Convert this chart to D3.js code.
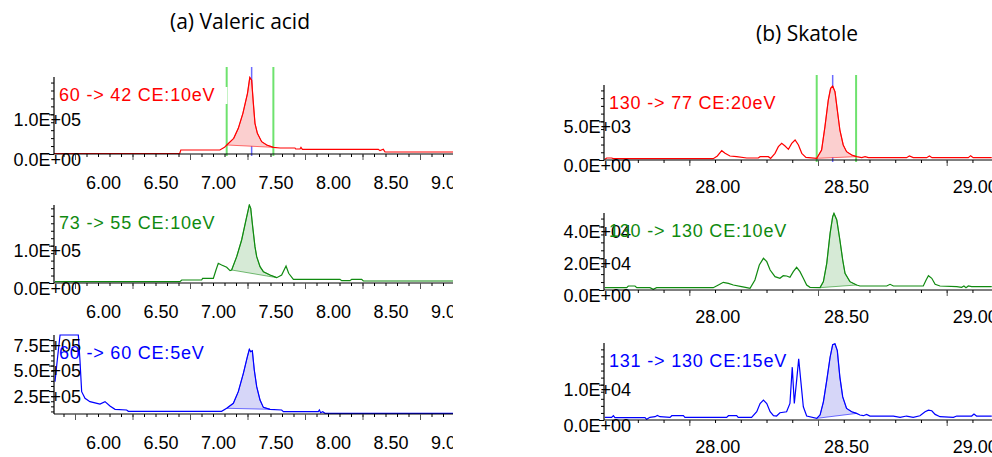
<!DOCTYPE html>
<html>
<head>
<meta charset="utf-8">
<script src="https://cdn.jsdelivr.net/npm/d3@7"></script>
<style>
  body { margin: 0; background: #fff; }
  svg { display: block; }
</style>
</head>
<body>
<div id="chart"></div>
<script>
// ---- data (retention time in min, intensity) ----
const titles = ["(a) Valeric acid", "(b) Skatole"];

const valericLabels = ["60 -> 42 CE:10eV", "73 -> 55 CE:10eV", "60 -> 60 CE:5eV"];
const skatoleLabels = ["130 -> 77 CE:20eV", "130 -> 130 CE:10eV", "131 -> 130 CE:15eV"];

const valericXTicks = [6.0, 6.5, 7.0, 7.5, 8.0, 8.5, 9.0];
const skatoleXTicks = [28.0, 28.5, 29.0];

// y tick values per trace
const valericYTicks = [[0, 1e5], [0, 1e5], [2.5e5, 5.0e5, 7.5e5]];
const skatoleYTicks = [[0, 5e3], [0, 2e4, 4e4], [0, 1e4]];

// y axis extent per trace
const valericYDomain = [[0, 1.94e5], [0, 2.09e5], [0.25e5, 8.0e5]];
const skatoleYDomain = [[0, 9.7e3], [0, 4.85e4], [0, 2.18e4]];

// integration windows and peak marks
const valericPeaks = [[7.32, 7.725], [7.362, 7.754], [7.319, 7.696]];
const skatolePeaks = [[28.495, 28.65], [28.508, 28.65], [28.495, 28.65]];
const valericMarks = [7.319, 7.725];
const valericApex = 7.536;
const skatoleMarks = [28.495, 28.648];
const skatoleApex = 28.557;

const valeric_60_42 = [
  [5.81, 840], [6.91, 840], [6.92, 10080], [7.26, 10080], [7.30, 16800], [7.32, 22700],
  [7.38, 39500], [7.42, 64600], [7.46, 102400], [7.50, 152800], [7.52, 193000],
  [7.536, 186000], [7.551, 127600], [7.565, 77200], [7.586, 52000], [7.623, 31000],
  [7.667, 22700], [7.725, 16800], [7.783, 15100], [7.913, 15100], [7.919, 12600],
  [7.957, 12600], [7.965, 16800], [7.977, 11800], [8.638, 11800], [8.652, 8400],
  [8.681, 11800], [8.696, 5000], [9.29, 5000]
];
const valeric_73_55 = [
  [5.826, 3570], [6.913, 3570], [6.928, 8040], [7.101, 8040], [7.110, 12510], [7.203, 12510],
  [7.226, 34850], [7.246, 52730], [7.275, 48260], [7.319, 42000], [7.348, 33060],
  [7.362, 34850], [7.406, 70600], [7.449, 115280], [7.487, 168900], [7.516, 209100],
  [7.528, 200200], [7.545, 151000], [7.565, 97400], [7.580, 70600], [7.609, 43780],
  [7.638, 30380], [7.696, 21450], [7.754, 14300], [7.797, 21450], [7.835, 45580],
  [7.858, 25920], [7.899, 9830], [8.304, 9830], [8.319, 6250], [8.391, 6250],
  [8.406, 9830], [8.493, 9830], [8.507, 5360], [9.29, 5360]
];
const valeric_60_60 = [
  [5.826, 342000], [5.846, 555000], [5.870, 800000], [6.029, 800000], [6.043, 555000],
  [6.058, 244000], [6.087, 179000], [6.130, 146000], [6.217, 123000], [6.261, 146000],
  [6.304, 103000], [6.348, 71000], [6.449, 64000], [6.464, 51000], [7.275, 51000],
  [7.319, 81000], [7.377, 130000], [7.420, 244000], [7.464, 424000], [7.499, 587000],
  [7.516, 659000], [7.528, 636000], [7.542, 646000], [7.559, 457000], [7.580, 293000],
  [7.609, 162000], [7.638, 90000], [7.696, 71000], [7.797, 64000], [7.812, 48000],
  [8.116, 48000], [8.125, 64000], [8.136, 38000], [8.154, 48000], [8.174, 32000],
  [9.29, 32000]
];

const skatole_130_77 = [
  [27.672, 86], [27.679, 259], [27.698, 259], [27.705, 172], [28.093, 172], [28.109, 517],
  [28.126, 1207], [28.139, 862], [28.158, 517], [28.184, 431], [28.223, 259], [28.268, 259],
  [28.275, 431], [28.307, 431], [28.316, 216], [28.333, 862], [28.346, 1724], [28.359, 2155],
  [28.372, 1810], [28.385, 1379], [28.398, 2155], [28.411, 2586], [28.424, 1940],
  [28.437, 862], [28.453, 345], [28.495, 216], [28.514, 1293], [28.527, 4310],
  [28.540, 7758], [28.549, 9267], [28.557, 9569], [28.566, 8835], [28.575, 6465],
  [28.585, 3879], [28.598, 1940], [28.611, 1077], [28.631, 647], [28.650, 431],
  [28.670, 302], [28.683, 431], [28.696, 302], [28.844, 302], [28.855, 517], [28.870, 302],
  [28.922, 302], [28.933, 517], [28.943, 302], [29.084, 302], [29.093, 560], [29.103, 302],
  [29.175, 302]
];
const skatole_130_130 = [
  [27.672, 1470], [27.757, 1470], [27.763, 2520], [27.789, 2520], [27.796, 1470],
  [27.847, 1470], [27.860, 420], [27.873, 1470], [28.093, 1470], [28.113, 3150],
  [28.132, 4830], [28.152, 4200], [28.171, 3150], [28.203, 2100], [28.223, 1470],
  [28.236, 1050], [28.255, 6300], [28.272, 15750], [28.288, 19950], [28.301, 17850],
  [28.314, 12600], [28.333, 8400], [28.352, 7350], [28.365, 9030], [28.378, 8820],
  [28.391, 7980], [28.404, 11550], [28.417, 14280], [28.430, 11550], [28.443, 7350],
  [28.456, 3150], [28.469, 1680], [28.508, 1470], [28.521, 5250], [28.534, 16800],
  [28.547, 35700], [28.557, 46190], [28.562, 48290], [28.573, 44090], [28.585, 31500],
  [28.596, 18900], [28.605, 10500], [28.624, 5250], [28.650, 3150], [28.663, 2520],
  [28.767, 2520], [28.780, 3570], [28.793, 2520], [28.909, 2520], [28.920, 6300],
  [28.929, 9030], [28.942, 7350], [28.955, 3570], [28.974, 2520], [29.039, 2100],
  [29.058, 1680], [29.067, 2520], [29.075, 1470], [29.084, 2520], [29.097, 2100],
  [29.175, 2100]
];
const skatole_131_130 = [
  [27.672, 748], [27.698, 748], [27.705, 1215], [27.711, 654], [27.828, 654], [27.834, 187],
  [27.847, 748], [27.867, 935], [27.876, 1309], [27.886, 935], [27.925, 748], [27.932, 1215],
  [27.977, 1215], [27.983, 748], [28.145, 748], [28.152, 1215], [28.184, 1215], [28.190, 748],
  [28.242, 748], [28.262, 2338], [28.275, 4675], [28.288, 5610], [28.301, 4675],
  [28.314, 2338], [28.327, 1215], [28.339, 1122], [28.352, 2057], [28.378, 2338],
  [28.391, 4675], [28.400, 14960], [28.408, 4675], [28.417, 11220], [28.425, 17297],
  [28.433, 11220], [28.443, 3740], [28.456, 1122], [28.495, 467], [28.508, 1402],
  [28.521, 5142], [28.534, 11220], [28.547, 17765], [28.557, 21318], [28.566, 21600],
  [28.575, 19635], [28.585, 12155], [28.596, 6545], [28.611, 3272], [28.631, 2338],
  [28.650, 1870], [28.663, 1402], [28.676, 1215], [28.689, 1590], [28.702, 1122],
  [28.793, 1122], [28.819, 748], [28.844, 1122], [28.870, 748], [28.896, 1215],
  [28.916, 2338], [28.929, 2805], [28.942, 2618], [28.955, 1590], [28.974, 935],
  [29.026, 748], [29.039, 1122], [29.097, 1122], [29.106, 1683], [29.116, 1122],
  [29.175, 1122]
];

const traceColors = ["#ff0000", "#108a10", "#0000ff"];
const fillColors = ["#fbcfcf", "#d6ead6", "#d6d6f8"];

// ---- layout ----
const W = 992, H = 457;
const font = "'Liberation Sans', Arial, sans-serif";

const svg = d3.select("#chart").append("svg")
  .attr("width", W)
  .attr("height", H);

svg.append("text")
  .attr("x", 240).attr("y", 29)
  .attr("text-anchor", "middle")
  .style("font-family", "'Open Sans', sans-serif")
  .style("font-size", "21px")
  .text(titles[0]);

svg.append("text")
  .attr("x", 807).attr("y", 41)
  .attr("text-anchor", "middle")
  .style("font-family", "'Open Sans', sans-serif")
  .style("font-size", "21px")
  .text(titles[1]);

// format like 1.0E+05
const fmtE = (v) => {
  if (v === 0) return "0.0E+00";
  const e = Math.floor(Math.log10(v));
  return (v / 10 ** e).toFixed(1) + "E+" + String(e).padStart(2, "0");
};

const drawColumn = (opts) => {
  const { left, right, rows, xTicks, x, series, labels, yTicks, yDomains, peaks, marks, apex, clipId, minorX, xLabelY } = opts;

  // clip the whole column at its right edge
  svg.append("defs").append("clipPath").attr("id", clipId)
    .append("rect").attr("x", 0).attr("y", 0).attr("width", right).attr("height", H);

  const col = svg.append("g").attr("clip-path", `url(#${clipId})`);

  rows.forEach((row, i) => {
    const y = d3.scaleLinear().domain(yDomains[i]).range([row.base, row.top]);
    const g = col.append("g");

    const plotClip = `${clipId}-p${i}`;
    svg.select("defs").append("clipPath").attr("id", plotClip)
      .append("rect")
      .attr("x", left).attr("y", row.top - 1)
      .attr("width", right - left).attr("height", row.base - row.top + 1);

    // peak marker lines (first trace only)
    if (i === 0) {
      marks.forEach((m) => {
        g.append("line")
          .attr("x1", x(m)).attr("x2", x(m))
          .attr("y1", row.top - 10).attr("y2", row.base + 2)
          .attr("stroke", "#6ee26e").attr("stroke-width", 2);
      });
      g.append("line")
        .attr("x1", x(apex)).attr("x2", x(apex))
        .attr("y1", row.top - 10).attr("y2", row.base + 2)
        .attr("stroke", "#6b6bff").attr("stroke-width", 1.5);
    }

    const labelBg = g.append("rect").attr("fill", "#fff");

    const line = d3.line().x((d) => x(d[0])).y((d) => y(d[1]));
    const plot = g.append("g").attr("clip-path", `url(#${plotClip})`);

    const [a, b] = peaks[i];
    const area = series[i].filter((d) => d[0] >= a - 1e-6 && d[0] <= b + 1e-6);
    plot.append("path")
      .attr("d", line(area) + "Z")
      .attr("fill", fillColors[i])
      .attr("stroke", traceColors[i])
      .attr("stroke-width", 0.8)
      .attr("stroke-opacity", 0.7);

    plot.append("path")
      .attr("d", line(series[i]))
      .attr("fill", "none")
      .attr("stroke", traceColors[i])
      .attr("stroke-width", 1.2);

    // x axis
    const xa = g.append("g").attr("transform", `translate(0,${row.base})`);
    xa.append("line")
      .attr("x1", left).attr("x2", right)
      .attr("stroke", "#000").attr("stroke-width", 1.2);
    const lo = x.invert(left), hi = x.invert(right);
    const minor = d3.range(Math.ceil(lo / minorX) * minorX, hi, minorX);
    xa.append("g")
      .call(d3.axisBottom(x).tickValues(minor).tickSize(3).tickFormat(""))
      .call((s) => s.select(".domain").remove())
      .selectAll("line").attr("stroke", "#000");
    xa.append("g")
      .call(d3.axisBottom(x).tickValues(xTicks).tickSize(6).tickFormat((d) => d.toFixed(2)))
      .call((s) => s.select(".domain").remove())
      .call((s) => s.selectAll("line").attr("stroke", "#555"))
      .selectAll("text")
      .attr("x", 28).attr("y", xLabelY).attr("dy", null)
      .attr("fill", "#000")
      .style("font-family", font).style("font-size", "18px");

    // y axis
    const ya = g.append("g").attr("transform", `translate(${left},0)`);
    ya.append("line")
      .attr("y1", row.top).attr("y2", row.base)
      .attr("stroke", "#000").attr("stroke-width", 1.2);
    const yMinor = d3.range(Math.ceil(yDomains[i][0] / row.step) * row.step, yDomains[i][1], row.step);
    ya.append("g")
      .call(d3.axisLeft(y).tickValues(yMinor).tickSize(3).tickFormat(""))
      .call((s) => s.select(".domain").remove())
      .selectAll("line").attr("stroke", "#000");

    // trace label
    const lbl = g.append("text")
      .attr("x", left + 5).attr("y", row.top + 24)
      .attr("fill", traceColors[i])
      .style("font-family", font).style("font-size", "18px")
      .style("letter-spacing", "0.8px")
      .text(labels[i]);
    const bb = lbl.node().getBBox();
    labelBg.attr("x", bb.x - 2).attr("y", bb.y + 2)
      .attr("width", bb.width + 14).attr("height", bb.height - 3);

    ya.append("g")
      .call(d3.axisLeft(y).tickValues(yTicks[i]).tickSize(5).tickFormat(fmtE))
      .call((s) => s.select(".domain").remove())
      .call((s) => s.selectAll("line").attr("stroke", "#000"))
      .selectAll("text")
      .attr("x", 27).attr("y", 5).attr("dy", "0.35em")
      .attr("fill", "#000")
      .style("font-family", font).style("font-size", "18px");
  });
};

drawColumn({
  left: 54, right: 453,
  rows: [{ top: 77, base: 154, step: 2e4 }, { top: 205, base: 283, step: 2e4 }, { top: 335, base: 414, step: 5e4 }],
  x: d3.scaleLinear().domain([6, 9]).range([75, 420]),
  xTicks: valericXTicks, minorX: 0.1, xLabelY: 35,
  series: [valeric_60_42, valeric_73_55, valeric_60_60],
  labels: valericLabels, yTicks: valericYTicks, yDomains: valericYDomain,
  peaks: valericPeaks, marks: valericMarks, apex: valericApex, clipId: "clipA"
});

drawColumn({
  left: 604, right: W,
  rows: [{ top: 85, base: 160, step: 1e3 }, { top: 213, base: 290, step: 5e3 }, { top: 343, base: 420, step: 2e3 }],
  x: d3.scaleLinear().domain([28, 29]).range([689.3, 946.7]),
  xTicks: skatoleXTicks, minorX: 0.1, xLabelY: 33,
  series: [skatole_130_77, skatole_130_130, skatole_131_130],
  labels: skatoleLabels, yTicks: skatoleYTicks, yDomains: skatoleYDomain,
  peaks: skatolePeaks, marks: skatoleMarks, apex: skatoleApex, clipId: "clipB"
});
</script>
</body>
</html>
